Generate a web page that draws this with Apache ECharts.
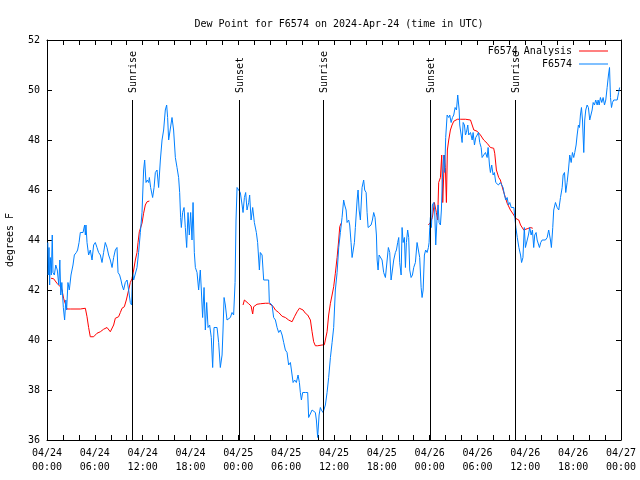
<!DOCTYPE html>
<html>
<head>
<meta charset="utf-8">
<script src="https://cdn.jsdelivr.net/npm/echarts@6/dist/echarts.min.js"></script>
<style>
html,body{margin:0;padding:0;background:#fff;}
#chart{width:640px;height:480px;}
</style>
</head>
<body>
<div id="chart"></div>
<script>
// Hours since 2024-04-24 00:00 UTC, value in degrees F
const analysisSeries = [
  [0.50,42.47],[0.83,42.45],[1.25,42.27],[1.67,42.13],[1.88,42.0],[2.08,41.67],[2.30,41.45],[2.51,41.24],
  [2.92,41.24],[4.18,41.24],[4.81,41.27],[5.02,40.93],[5.22,40.5],[5.43,40.13],[5.65,40.07],[5.85,40.13],
  [6.27,40.27],[6.69,40.33],[7.10,40.43],[7.53,40.5],[7.73,40.45],[7.94,40.33],[8.36,40.6],[8.57,40.87],
  [8.98,40.93],[9.20,41.1],[9.41,41.27],[9.70,41.33],[9.95,41.6],[10.24,42.0],[10.45,42.3],[10.66,42.45],
  [10.87,42.8],[11.08,43.2],[11.29,43.5],[11.42,43.9],[11.58,44.33],[11.74,44.4],[11.92,44.67],[12.12,45.07],
  [12.33,45.4],[12.55,45.53],[12.84,45.56],
  [12.9,null],
  [24.59,41.4],[24.76,41.6],[24.88,41.55],[25.30,41.45],[25.60,41.36],[25.80,41.04],[25.92,41.33],[26.34,41.43],
  [26.76,41.45],[27.39,41.47],[27.80,41.47],[28.02,41.4],[28.36,41.35],[28.65,41.2],[29.06,41.1],[29.49,40.95],
  [29.90,40.9],[30.31,40.8],[30.74,40.73],[31.07,40.95],[31.37,41.13],[31.66,41.27],[31.87,41.27],[32.12,41.2],
  [32.41,41.07],[32.70,41.0],[32.91,40.98],[33.04,40.8],[33.25,40.33],[33.45,39.93],[33.66,39.77],[33.95,39.77],
  [34.20,39.8],[34.50,39.8],[34.79,39.81],[35.01,39.87],[35.13,40.33],[35.33,41.0],[35.55,41.47],[35.76,41.8],
  [35.96,42.13],[36.17,42.67],[36.39,43.3],[36.59,44.0],[36.72,44.53],[36.89,44.67],
  [37.0,null],
  [47.84,44.6],[48.09,44.7],[48.34,44.9],[48.59,45.5],[48.84,45.1],[49.00,44.8],[49.13,46.3],[49.35,46.5],
  [49.51,47.4],[49.64,45.5],[49.85,47.4],[49.97,46.9],[50.10,45.5],[50.22,47.6],[50.39,48.0],[50.60,48.4],
  [50.81,48.6],[51.02,48.75],[51.48,48.83],[51.86,48.83],[52.49,48.83],[53.12,48.8],[53.54,48.4],[53.96,48.35],
  [54.37,48.2],[54.78,48.0],[55.21,47.87],[55.62,47.7],[56.03,47.67],[56.16,47.47],[56.37,46.8],[56.66,46.5],
  [56.87,46.4],[57.21,46.0],[57.50,45.7],[57.72,45.47],[58.13,45.2],[58.55,45.0],[58.76,44.87],[59.18,44.8],
  [59.40,44.6],[59.80,44.4],[60.23,44.45],[60.64,44.5],[60.93,44.47]
];

const stationSeries = [
  [0.10,43.9],[0.16,42.6],[0.25,43.7],[0.33,42.2],[0.41,43.3],[0.54,42.6],[0.66,44.2],[0.75,42.7],
  [0.92,42.6],[1.10,43.0],[1.29,42.8],[1.48,42.2],[1.61,43.2],[1.73,41.8],[1.86,42.3],[2.05,41.3],
  [2.21,40.8],[2.36,41.6],[2.46,41.2],[2.63,42.3],[2.80,42.0],[3.01,42.6],[3.26,43.0],[3.43,43.4],
  [3.68,43.5],[3.84,43.6],[4.02,43.9],[4.18,44.3],[4.52,44.3],[4.72,44.6],[4.81,44.2],[4.89,44.6],
  [5.02,43.9],[5.22,43.4],[5.43,43.6],[5.65,43.2],[5.85,43.8],[6.06,43.9],[6.27,43.7],[6.47,43.5],
  [6.69,43.4],[6.90,43.1],[7.10,43.5],[7.31,43.9],[7.53,43.7],[7.73,43.4],[7.94,43.2],[8.16,42.9],
  [8.36,43.3],[8.57,43.6],[8.78,43.7],[8.91,42.7],[9.11,42.6],[9.28,42.4],[9.41,42.2],[9.61,42.0],
  [9.82,42.3],[10.04,42.4],[10.24,42.0],[10.45,41.5],[10.61,41.4],[10.74,42.7],[10.87,42.4],[11.08,42.4],
  [11.29,42.9],[11.49,43.5],[11.71,44.3],[11.92,45.1],[12.12,46.8],[12.25,47.2],[12.42,46.3],[12.58,46.4],
  [12.75,46.3],[12.84,46.5],[13.00,46.1],[13.25,45.7],[13.43,46.1],[13.59,46.7],[13.80,46.8],[14.00,46.1],
  [14.22,47.2],[14.43,48.0],[14.63,48.4],[14.84,49.2],[15.01,49.4],[15.13,48.9],[15.26,48.0],[15.47,48.0],
  [15.68,48.9],[15.88,48.4],[16.10,47.3],[16.31,46.9],[16.51,46.5],[16.64,45.9],[16.76,44.9],[16.85,44.5],
  [17.01,45.1],[17.19,45.3],[17.35,44.5],[17.52,43.7],[17.69,45.1],[17.85,44.2],[18.02,45.1],[18.19,44.0],
  [18.32,45.5],[18.48,43.5],[18.61,42.9],[18.82,42.7],[19.02,42.0],[19.23,42.8],[19.36,42.0],[19.52,40.9],
  [19.70,42.1],[19.86,40.4],[20.03,41.5],[20.20,40.5],[20.40,40.6],[20.61,40.1],[20.78,38.9],[20.95,40.5],
  [21.12,40.5],[21.33,40.5],[21.53,39.9],[21.74,38.9],[21.96,39.4],[22.08,40.4],[22.21,41.7],[22.37,41.4],
  [22.58,40.8],[23.00,40.9],[23.21,41.1],[23.41,41.0],[23.59,42.3],[23.71,44.8],[23.84,46.1],[24.04,46.0],
  [24.25,45.9],[24.47,45.4],[24.59,45.1],[24.76,45.7],[24.92,45.9],[25.09,45.2],[25.30,45.5],[25.42,45.8],
  [25.60,44.8],[25.80,45.3],[26.01,44.7],[26.26,44.3],[26.42,43.9],[26.64,42.8],[26.76,43.5],[26.98,43.4],
  [27.18,42.4],[27.80,42.4],[27.89,41.5],[28.23,41.4],[28.43,40.9],[28.65,40.8],[28.86,40.5],[29.06,40.3],
  [29.27,40.4],[29.49,40.2],[29.69,39.9],[29.90,39.6],[30.11,39.5],[30.31,39.0],[30.53,39.1],[30.74,39.1],
  [30.87,38.3],[31.07,38.4],[31.28,38.3],[31.49,38.6],[31.66,38.3],[31.78,37.9],[31.91,37.6],[32.07,37.9],
  [32.41,37.9],[32.70,37.9],[32.82,36.9],[33.04,36.9],[33.25,37.2],[33.45,37.2],[33.66,37.1],[33.79,36.8],
  [33.95,36.1],[34.13,37.0],[34.29,37.3],[34.42,37.2],[34.63,37.1],[34.92,37.4],[35.13,37.9],[35.33,38.5],
  [35.55,39.3],[35.76,39.9],[35.96,40.5],[36.17,42.0],[36.39,42.7],[36.59,43.7],[36.80,44.3],[37.01,44.9],
  [37.21,45.6],[37.34,45.4],[37.52,45.2],[37.64,44.7],[37.84,44.8],[37.97,44.6],[38.14,43.9],[38.27,43.3],
  [38.39,43.3],[38.56,43.9],[38.68,44.5],[38.90,45.6],[39.02,46.0],[39.15,45.2],[39.31,44.8],[39.52,46.1],
  [39.72,46.4],[39.85,46.0],[40.03,45.9],[40.15,45.1],[40.28,44.5],[40.48,44.5],[40.65,44.6],[40.82,44.8],
  [40.98,45.1],[41.15,44.9],[41.32,44.2],[41.41,43.2],[41.53,42.8],[41.66,43.4],[41.82,43.4],[42.03,43.2],
  [42.23,42.7],[42.45,42.5],[42.66,42.5],[42.82,43.7],[42.99,43.5],[43.16,42.4],[43.33,42.8],[43.49,43.2],
  [43.70,43.5],[43.83,43.6],[43.99,43.9],[44.12,44.1],[44.24,43.1],[44.42,42.6],[44.54,44.5],[44.67,43.9],
  [44.83,44.1],[44.96,42.9],[45.08,43.9],[45.24,44.4],[45.37,44.1],[45.50,42.8],[45.67,42.5],[45.84,42.6],
  [46.00,42.9],[46.21,43.1],[46.42,43.9],[46.63,43.9],[46.75,43.3],[46.93,42.1],[47.05,41.7],[47.18,42.0],
  [47.34,43.4],[47.50,43.6],[47.68,43.5],[47.84,43.7],[47.93,43.9],[48.01,44.5],[48.09,44.9],[48.22,44.5],
  [48.34,45.4],[48.51,45.5],[48.63,45.2],[48.76,43.8],[48.93,44.9],[49.06,45.4],[49.18,44.7],[49.35,44.6],
  [49.47,45.2],[49.60,46.5],[49.76,47.4],[49.89,46.7],[50.01,48.1],[50.19,49.0],[50.39,48.9],[50.52,49.0],
  [50.69,48.7],[50.86,48.9],[51.02,49.0],[51.19,49.3],[51.36,49.2],[51.52,49.8],[51.70,49.2],[51.77,48.6],
  [51.95,48.2],[52.07,47.9],[52.20,48.7],[52.36,48.6],[52.49,48.2],[52.61,48.3],[52.78,48.6],[52.90,48.2],
  [53.12,48.3],[53.33,48.0],[53.45,48.3],[53.62,47.8],[53.78,48.1],[53.96,48.2],[54.12,48.3],[54.28,47.9],
  [54.46,47.7],[54.58,47.3],[54.78,47.4],[55.00,47.5],[55.21,47.3],[55.33,47.7],[55.50,47.0],[55.62,46.7],
  [55.78,47.0],[55.96,46.6],[56.12,46.7],[56.29,46.3],[56.46,46.3],[56.62,46.2],[56.87,46.3],[57.09,46.3],
  [57.21,46.1],[57.38,45.8],[57.54,45.6],[57.72,45.7],[57.89,45.4],[58.05,45.5],[58.23,45.3],[58.39,45.3],
  [58.56,45.3],[58.69,44.9],[58.81,44.5],[58.99,44.1],[59.19,43.7],[59.40,43.4],[59.53,43.1],[59.70,43.3],
  [59.87,44.5],[60.01,43.7],[60.23,43.7],[60.39,44.2],[60.55,44.5],[60.73,44.2],[60.89,44.4],[61.05,43.7],
  [61.18,44.2],[61.35,44.3],[61.48,44.0],[61.64,44.0],[61.77,43.7],[61.93,43.9],[62.11,44.0],[62.52,44.0],
  [62.74,44.1],[62.93,44.4],[63.15,44.0],[63.27,43.7],[63.44,44.5],[63.56,45.2],[63.78,45.5],[63.99,45.3],
  [64.19,45.2],[64.41,45.7],[64.62,46.1],[64.74,46.6],[64.91,46.7],[65.07,45.9],[65.24,46.3],[65.41,46.8],
  [65.57,47.4],[65.75,47.1],[65.91,47.5],[66.07,47.3],[66.20,47.5],[66.37,47.8],[66.50,48.2],[66.66,48.6],
  [66.79,48.5],[66.91,49.0],[67.04,49.3],[67.17,48.8],[67.33,47.5],[67.45,48.8],[67.58,49.2],[67.75,49.4],
  [67.91,49.3],[68.08,48.8],[68.26,48.8],[68.38,49.2],[68.51,49.5],[68.67,49.4],[68.83,49.6],[69.01,49.4],
  [69.13,49.6],[69.26,49.4],[69.42,49.7],[69.59,49.5],[69.76,49.7],[69.93,49.4],[70.09,49.6],[70.26,50.1],
  [70.43,50.6],[70.56,50.9],[70.68,49.7],[70.81,49.3],[70.93,49.5],[71.09,49.6],[71.31,49.6],[71.52,49.6],
  [71.70,49.9],[71.83,50.1]
];

const sunHours  = [10.6, 24.03, 34.58, 48.0, 58.67];
const sunLabels = ['Sunrise', 'Sunset', 'Sunrise', 'Sunset', 'Sunrise'];

const xTickLabels = [
  '04/24\n00:00','04/24\n06:00','04/24\n12:00','04/24\n18:00',
  '04/25\n00:00','04/25\n06:00','04/25\n12:00','04/25\n18:00',
  '04/26\n00:00','04/26\n06:00','04/26\n12:00','04/26\n18:00',
  '04/27\n00:00'
];
const seriesNames = ['F6574 Analysis', 'F6574'];
const seriesColors = ['#ff0000', '#0080ff'];
const titleText = 'Dew Point for F6574 on 2024-Apr-24 (time in UTC)';

const FONT = '"DejaVu Sans Mono", "Liberation Mono", monospace';
const SUN_TOP = 49.6;

const chart = echarts.init(document.getElementById('chart'), null, {renderer: 'canvas'});

const axisCommonX = {
  type: 'value', min: 0, max: 72, interval: 6,
  axisLine: {show: true, onZero: false, lineStyle: {color: '#000', width: 1}},
  axisTick: {show: true, inside: true, length: 5, lineStyle: {color: '#000'}},
  minorTick: {show: true, splitNumber: 3, length: 5, lineStyle: {color: '#000'}},
  splitLine: {show: false}, minorSplitLine: {show: false}
};
const axisCommonY = {
  type: 'value', min: 36, max: 52, interval: 2,
  axisLine: {show: true, onZero: false, lineStyle: {color: '#000', width: 1}},
  axisTick: {show: true, inside: true, length: 5, lineStyle: {color: '#000'}},
  splitLine: {show: false}
};

chart.setOption({
  animation: false,
  backgroundColor: '#fff',
  title: {
    text: titleText, left: 334, top: 13, textAlign: 'center',
    textStyle: {fontFamily: FONT, fontSize: 10, fontWeight: 'normal', color: '#000', lineHeight: 12}
  },
  legend: {
    data: seriesNames.map(function (n, i) {
      return {name: n, icon: 'rect', itemStyle: {color: seriesColors[i]}};
    }),
    orient: 'vertical', right: 27, top: 40, align: 'right',
    itemWidth: 29, itemHeight: 1, itemGap: 1,
    textStyle: {fontFamily: FONT, fontSize: 10, color: '#000', lineHeight: 12, padding: [0, 2, 0, 0]},
    selectedMode: false
  },
  grid: {left: 47, right: 19, top: 40, bottom: 40, containLabel: false, outerBoundsMode: 'none'},
  xAxis: [
    Object.assign({}, axisCommonX, {
      position: 'bottom',
      axisLabel: {
        show: true, margin: 6, color: '#000', fontFamily: FONT, fontSize: 10, lineHeight: 14,
        showMinLabel: true, showMaxLabel: true,
        formatter: function (v) { return xTickLabels[Math.round(v / 6)]; }
      }
    }),
    Object.assign({}, axisCommonX, {position: 'top', axisLabel: {show: false}})
  ],
  yAxis: [
    Object.assign({}, axisCommonY, {
      position: 'left',
      name: 'degrees F', nameLocation: 'middle', nameRotate: 90, nameGap: 31,
      nameTextStyle: {fontFamily: FONT, fontSize: 10, color: '#000', lineHeight: 12},
      axisLabel: {show: true, margin: 7, color: '#000', fontFamily: FONT, fontSize: 10}
    }),
    Object.assign({}, axisCommonY, {position: 'right', axisLabel: {show: false}})
  ],
  series: [
    {
      name: seriesNames[0], type: 'line', data: analysisSeries,
      showSymbol: false, symbol: 'none', connectNulls: false,
      lineStyle: {color: seriesColors[0], width: 1}, itemStyle: {color: seriesColors[0]},
      z: 2
    },
    {
      name: seriesNames[1], type: 'line', data: stationSeries,
      showSymbol: false, symbol: 'none',
      lineStyle: {color: seriesColors[1], width: 1}, itemStyle: {color: seriesColors[1]},
      z: 3
    },
    {
      type: 'custom', name: 'sun', z: 4, silent: true,
      data: sunHours.map(function (h) { return [h]; }),
      renderItem: function (params, api) {
        const x = api.value(0);
        const top = api.coord([x, SUN_TOP]);
        const bot = api.coord([x, 36]);
        const px = Math.round(top[0]) + 0.5;
        return {
          type: 'group',
          children: [
            {type: 'line', shape: {x1: px, y1: Math.round(top[1]), x2: px, y2: bot[1]},
             style: {stroke: '#000', lineWidth: 1}},
            {type: 'text', x: px + 1, y: Math.round(top[1]) - 7, rotation: Math.PI / 2,
             style: {text: sunLabels[params.dataIndex], fill: '#000',
                     font: '10px ' + FONT, align: 'left', verticalAlign: 'middle'}}
          ]
        };
      }
    }
  ]
});
</script>
</body>
</html>
